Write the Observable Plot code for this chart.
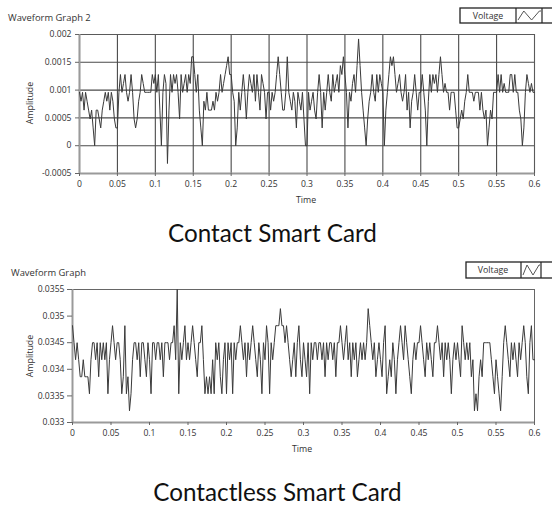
<!DOCTYPE html>
<html><head><meta charset="utf-8">
<script src="https://cdn.jsdelivr.net/npm/d3@7"></script>
<script src="https://cdn.jsdelivr.net/npm/@observablehq/plot@0.6"></script>
<style>
html,body{margin:0;padding:0;background:#fff;}
#page{position:relative;width:552px;height:505px;overflow:hidden;background:#fff;}
#page svg{position:absolute;left:0;}
</style></head><body><div id="page"></div>
<script>
// ---- data ----
const timeStep = 0.002; // s between samples, starting at t = 0
const contactAmplitude = [
0.00096,0.0008,0.00096,0.00064,0.00096,0.0008,0.00064,0.00048,0.00064,0.00032,0,0.00064,0.00064,0.00048,0.00032,0.00064,0.0008,0.00096,0.0008,0.00096,0.00064,0.00096,0.0008,0.00048,0.00032,
0.00032,0.00096,0.00128,0.00096,0.00112,0.00128,0.00096,0.0008,0.00096,0.00128,0.00096,0.00048,0.00032,0.00048,0.0008,0.00096,0.00128,0.00112,0.00096,0.00096,0.00096,0.00096,0.00096,0.00128,0.00112,
0.00128,0.00096,0.00128,0.00064,0,0.00096,0.00128,0.00112,-0.00032,0.00064,0.00128,0.00096,0.00128,0.00112,0.00128,0.00096,0.00048,0.00128,0.00096,0.00112,0.00128,0.00096,0.00128,0.00112,0.0016,
0.0016,0.00128,0.00096,0.00128,0.00064,0.00032,0,0.0008,0.00064,0.00096,0.00064,0.00064,0.00064,0.0008,0.00064,0.00096,0.0008,0.00096,0.00128,0.00096,0.00112,0.00128,0.00144,0.0016,0.00128,
0.00128,0.00096,0.0008,0,0.00032,0.00096,0.00064,0.00096,0.00128,0.00096,0.00048,0.00096,0.00128,0.00112,0.00096,0.00128,0.0008,0.00128,0.00096,0.00064,0.00128,0.00112,0.00096,0.00048,0.00096,
0.00096,0.00064,0.00096,0.0008,0.00096,0.00128,0.0016,0.00128,0.00096,0.00064,0.00064,0.00096,0.0016,0.00096,0.0008,0.00064,0.00096,0.0008,0.00032,0.00096,0.0008,0.00064,0.00096,0.00048,0,
0,0.00096,0.00064,0.0008,0.00096,0.00064,0.00048,0.00096,0.00128,0.00096,0.00032,0.00096,0.00064,0.00096,0.00128,0.00096,0.0008,0.00128,0.00096,0.00112,0.00128,0.00096,0.00144,0.00128,0.0016,
0.00128,0.00096,0.00032,0.00096,0.0008,0.00112,0.00128,0.00096,0.00144,0.00192,0.00144,0.00096,0.00064,0.00032,0,0.00048,0.0008,0.00096,0.00128,0.00096,0.0008,0.00128,0.00096,0.00128,0.00112,
0.00096,0,0.00064,0.00096,0.00128,0.0016,0.00144,0.0016,0.00128,0.00096,0.00112,0.00128,0.00096,0.0008,0.00096,0.00128,0.00064,0.00096,0.00032,0.0008,0.00096,0.00128,0.00096,0.00064,0.00096,
0.00096,0.00128,0.00096,0.00064,0,0.0008,0.00128,0.00096,0.00128,0.00112,0.00128,0.00096,0.00128,0.0016,0.00128,0.00096,0.00112,0.00096,0.00096,0.00064,0.00096,0.00096,0.00096,0.00064,0.00032,
0.00032,0.00048,0.00064,0.00048,0.0008,0.00096,0.00128,0.00096,0.00096,0.00096,0.0008,0.00096,0.00096,0.00096,0.00064,0.00096,0.00064,0.00048,0.00064,0,0.00032,0.00064,0.00048,0.00096,0.00096,
0.00096,0.00128,0.00096,0.00128,0.00096,0.00112,0.00096,0.00096,0.00096,0.00128,0.00128,0.00096,0.00128,0.00096,0.00096,0.00064,0.00048,0,0.00032,0.00096,0.00128,0.00112,0.00096,0.00112,0.00096,
0.00096];
const contactlessAmplitude = [
0.03482,0.0345,0.03418,0.0345,0.03418,0.03386,0.03386,0.03418,0.03386,0.03386,0.03386,0.03354,0.03418,0.0345,0.0345,0.03418,0.0345,0.03386,0.0345,0.03418,0.0345,0.03418,0.0345,0.03354,0.03418,
0.0345,0.03482,0.0345,0.03418,0.0345,0.0345,0.03418,0.03354,0.03386,0.03482,0.03354,0.03386,0.03322,0.03354,0.03418,0.0345,0.0345,0.03418,0.0345,0.03386,0.0345,0.0345,0.03418,0.03386,0.0345,
0.03418,0.03354,0.0345,0.0345,0.03418,0.0345,0.0345,0.03418,0.0345,0.03386,0.0345,0.0345,0.0345,0.03418,0.0345,0.0345,0.03482,0.03418,0.0355,0.03354,0.0345,0.03418,0.0345,0.03482,0.03418,
0.0345,0.03418,0.0345,0.03482,0.0345,0.03418,0.03386,0.0345,0.0345,0.03482,0.03418,0.03354,0.03386,0.03354,0.03386,0.03354,0.03418,0.03354,0.0345,0.03418,0.0345,0.03386,0.03354,0.03418,0.0345,
0.03354,0.0345,0.03418,0.0345,0.03354,0.0345,0.03418,0.0345,0.0345,0.03482,0.0345,0.03418,0.0345,0.03386,0.0345,0.03418,0.0345,0.03482,0.0345,0.03418,0.03386,0.0345,0.03418,0.03354,0.0345,
0.03418,0.03482,0.0345,0.03354,0.0345,0.03418,0.0345,0.03482,0.03482,0.03482,0.03514,0.03482,0.03482,0.0345,0.03482,0.0345,0.03418,0.03386,0.03418,0.0345,0.03386,0.0345,0.03482,0.03418,0.03386,
0.0345,0.03418,0.03386,0.0345,0.03354,0.0345,0.03418,0.0345,0.0345,0.03418,0.0345,0.0345,0.03418,0.0345,0.03386,0.0345,0.03418,0.0345,0.0345,0.03418,0.0345,0.03386,0.0345,0.0345,0.03482,
0.0345,0.03418,0.0345,0.03482,0.03418,0.0345,0.03386,0.0345,0.03418,0.0345,0.03386,0.03418,0.0345,0.03418,0.0345,0.03418,0.0345,0.03514,0.03482,0.0345,0.03418,0.0345,0.03386,0.03418,0.0345,
0.03418,0.03386,0.0345,0.03482,0.03354,0.03386,0.03418,0.03386,0.0345,0.03418,0.03354,0.03418,0.0345,0.03482,0.0345,0.03418,0.03482,0.0345,0.03418,0.03386,0.03354,0.03418,0.0345,0.03418,0.0345,
0.0345,0.03482,0.0345,0.03418,0.03386,0.0345,0.03418,0.0345,0.03418,0.03386,0.0345,0.0345,0.03482,0.0345,0.03418,0.0345,0.03386,0.0345,0.03418,0.0345,0.03418,0.03354,0.03418,0.0345,0.03418,
0.0345,0.03418,0.03386,0.03482,0.0345,0.03418,0.0345,0.03418,0.0345,0.03386,0.03418,0.03322,0.03354,0.03322,0.03386,0.03418,0.03386,0.0345,0.0345,0.0345,0.0345,0.0345,0.03418,0.03386,0.03354,
0.03418,0.03386,0.03354,0.03322,0.03386,0.0345,0.03482,0.0345,0.03418,0.03386,0.0345,0.03418,0.0345,0.03418,0.03386,0.0345,0.03418,0.0345,0.03482,0.0345,0.03386,0.03354,0.0345,0.03482,0.03418,
0.03418];
const xTickValues = [0,0.05,0.1,0.15,0.2,0.25,0.3,0.35,0.4,0.45,0.5,0.55,0.6];
const xTickLabels = ["0","0.05","0.1","0.15","0.2","0.25","0.3","0.35","0.4","0.45","0.5","0.55","0.6"];
const contactYTicks = [-0.0005,0,0.0005,0.001,0.0015,0.002];
const contactYLabels = ["-0.0005","0","0.0005","0.001","0.0015","0.002"];
const contactlessYTicks = [0.033,0.0335,0.034,0.0345,0.035,0.0355];
const contactlessYLabels = ["0.033","0.0335","0.034","0.0345","0.035","0.0355"];
const panelTitles = ["Waveform Graph 2","Waveform Graph"];
const captions = ["Contact Smart Card","Contactless Smart Card"];
const legendLabel = "Voltage";
const xLabel = "Time", yLabel = "Amplitude";

// ---- drawing ----
const page = document.getElementById("page");
const FONT = "'Open Sans', 'DejaVu Sans', sans-serif";

function panel(o) {
  const data = o.values.map((v, i) => ({t: i * timeStep, v}));
  const marks = [];
  if (o.grid) {
    marks.push(Plot.gridX(xTickValues, {stroke: "#4a4a4a", strokeOpacity: 1, strokeWidth: 1.1}));
    marks.push(Plot.gridY(o.yTicks, {stroke: "#4a4a4a", strokeOpacity: 1, strokeWidth: 1.1}));
    marks.push(Plot.frame({stroke: "#5a5a5a", strokeWidth: 1}));
  } else {
    marks.push(Plot.frame({stroke: "#666", strokeWidth: 1}));
  }
  marks.push(Plot.ruleX([0], {stroke: "#9a9a9a", strokeWidth: 2}));
  marks.push(Plot.ruleY([o.yDomain[0]], {stroke: "#9a9a9a", strokeWidth: 2}));
  marks.push(Plot.line(data, {x: "t", y: "v", stroke: "#3a3a3a", strokeWidth: 1}));
  marks.push(Plot.axisX(xTickValues, {tickSize: 3, tickPadding: 4, stroke: "#666", fill: "#333",
    tickFormat: d => xTickLabels[xTickValues.indexOf(d)], label: null}));
  marks.push(Plot.axisY(o.yTicks, {tickSize: o.tickSizeY, tickPadding: o.tickPadY, stroke: "#666", fill: "#333",
    tickFormat: d => o.yLabels[o.yTicks.indexOf(d)], label: null}));
  const svg = Plot.plot({
    width: 552, height: o.height,
    marginLeft: o.marginLeft, marginRight: 18, marginTop: o.marginTop, marginBottom: o.marginBottom,
    x: {domain: [0, 0.6]},
    y: {domain: o.yDomain},
    style: {fontFamily: FONT, fontSize: "8.6px", color: "#333", background: "transparent", overflow: "visible"},
    marks
  });
  svg.style.top = o.top + "px";
  page.appendChild(svg);
}

panel({values: contactAmplitude, yTicks: contactYTicks, yLabels: contactYLabels, yDomain: [-0.0005, 0.002],
  top: 0, height: 215, marginLeft: 79, marginTop: 34, marginBottom: 42, grid: true, tickSizeY: 4, tickPadY: 4});
panel({values: contactlessAmplitude, yTicks: contactlessYTicks, yLabels: contactlessYLabels, yDomain: [0.033, 0.0355],
  top: 250, height: 215, marginLeft: 72, marginTop: 39, marginBottom: 43, grid: false, tickSizeY: 5, tickPadY: 3});

// overlay texts
const ov = d3.select(page).append("svg").attr("width", 552).attr("height", 505).style("top", "0px");
function txt(x, y, s, size, anchor, extra) {
  const t = ov.append("text").attr("x", x).attr("y", y).text(s)
    .attr("font-family", FONT).attr("font-size", size).attr("fill", "#333").attr("text-anchor", anchor || "start");
  if (extra) extra(t);
  return t;
}
txt(8, 21, panelTitles[0], 9.4);
txt(11, 276, panelTitles[1], 9.4);
txt(306, 203, xLabel, 8.8, "middle");
txt(302, 452, xLabel, 8.8, "middle");
[[33, 103], [33, 356]].forEach(([x, y]) => {
  ov.append("text").attr("transform", `translate(${x},${y}) rotate(-90)`).text(yLabel)
    .attr("font-family", FONT).attr("font-size", 8.8).attr("fill", "#333").attr("text-anchor", "middle");
});

function legend(x0, y0, h, d1, d2, tx) {
  const g = ov.append("g");
  g.append("rect").attr("x", x0).attr("y", y0).attr("width", 120).attr("height", h)
    .attr("fill", "#fff").attr("stroke", "#222").attr("stroke-width", 1.3);
  g.append("line").attr("x1", d1).attr("x2", d1).attr("y1", y0).attr("y2", y0 + h).attr("stroke", "#222").attr("stroke-width", 1.2);
  g.append("line").attr("x1", d2).attr("x2", d2).attr("y1", y0).attr("y2", y0 + h).attr("stroke", "#222").attr("stroke-width", 1.2);
  g.append("text").attr("x", tx).attr("y", y0 + h / 2 + 3.2).text(legendLabel)
    .attr("font-family", FONT).attr("font-size", 8.8).attr("fill", "#333").attr("text-anchor", "middle");
  const w = d2 - d1;
  g.append("polyline").attr("fill", "none").attr("stroke", "#555").attr("stroke-width", 1)
    .attr("points", [[d1 + 2, y0 + h - 3], [d1 + w * 0.3, y0 + 3], [d1 + w * 0.6, y0 + h - 3], [d1 + w * 0.9, y0 + 3], [d2 - 1, y0 + 3]].map(p => p.join(",")).join(" "));
}
legend(460, 8, 15, 516, 542, 488);
legend(466, 262, 16, 521, 541, 493);

// captions (Calibri-like, sized to the reference width)
const capFont = "Lato, 'Open Sans', sans-serif";
const ctx = document.createElement("canvas").getContext("2d");
ctx.font = "100px Lato";
const w100 = ctx.measureText(captions[0]).width;
const capSize = 100 * 209 / w100;
ov.append("text").attr("x", 272.5).attr("y", 242).text(captions[0]).attr("font-family", capFont)
  .attr("font-size", capSize).attr("fill", "#111").attr("text-anchor", "middle");
ov.append("text").attr("x", 277.5).attr("y", 501).text(captions[1]).attr("font-family", capFont)
  .attr("font-size", capSize).attr("fill", "#111").attr("text-anchor", "middle");
</script></body></html>
